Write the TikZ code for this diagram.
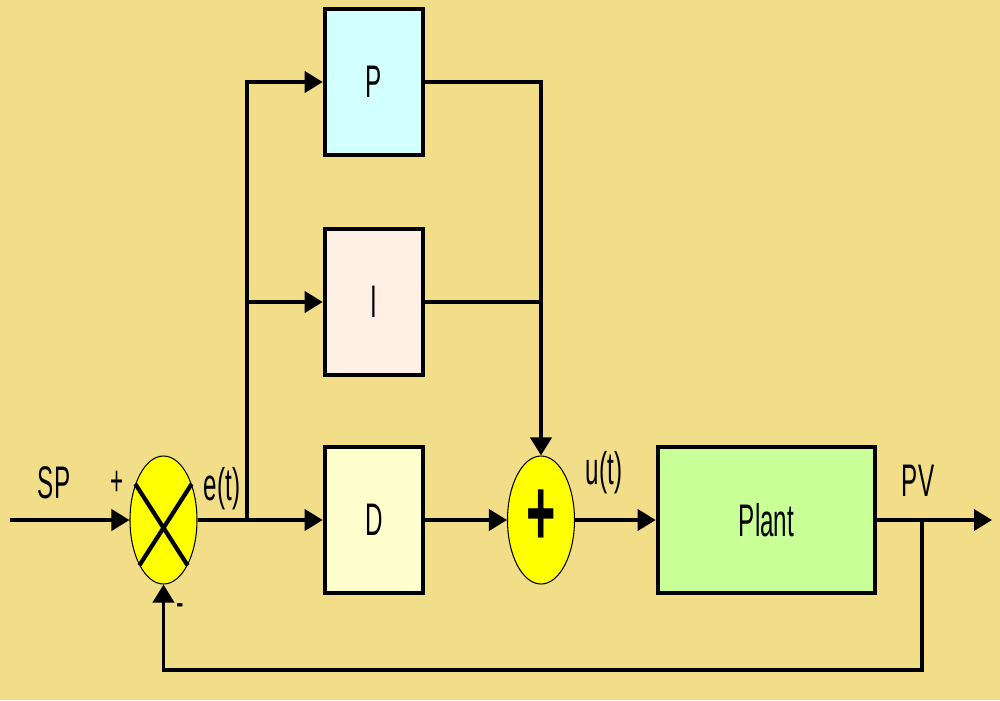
\documentclass[tikz,border=0pt]{standalone}
\usepackage{fontspec}
\setmainfont{Liberation Sans}
\newfontfamily\narrowfont[FakeStretch=0.53]{Liberation Sans}
\usepackage{tikz}
\definecolor{bgcolor}{RGB}{242,221,137}
\definecolor{sumyellow}{RGB}{255,255,0}
\definecolor{pcolor}{RGB}{210,255,255}
\definecolor{icolor}{RGB}{255,240,230}
\definecolor{dcolor}{RGB}{255,255,205}
\definecolor{plantcolor}{RGB}{200,255,150}
\usetikzlibrary{positioning}
\usetikzlibrary{arrows.meta}
\usetikzlibrary{shapes}
\tikzset{myLine/.style={line width=1.1pt}}

\begin{document}
\begin{tikzpicture}[x=0.1mm,y=-0.1mm,>={Triangle[length=1.8mm,width=2.1mm]},
  myBlock/.style={rectangle,draw=black,line width=1.3pt,minimum width=9.8mm,minimum height=14.6mm,inner sep=0pt,font=\narrowfont\fontsize{13}{13}\selectfont},
  mySum/.style={ellipse,draw=black,fill=sumyellow,line width=0.3pt,minimum width=6.7mm,minimum height=12.8mm,inner sep=0pt},
  myLabel/.style={inner sep=0pt,font=\narrowfont\fontsize{13}{13}\selectfont},
  mySign/.style={inner sep=0pt,font=\narrowfont\fontsize{12}{12}\selectfont}]
	\fill[bgcolor] (0,0) rectangle (1000,700);
	\useasboundingbox (0,0) rectangle (1000,700);
	% blocks
	\node[myBlock,fill=pcolor] (p) at (374,82) {P};
	\node[myBlock,fill=icolor] (i) at (374,302) {I};
	\node[myBlock,fill=dcolor] (d) at (374,520) {D};
	\node[myBlock,fill=plantcolor,minimum width=21.7mm] (plant) at (766.5,520) {Plant};
	\node[mySum] (sum1) at (163.5,520) {};
	\node[mySum,font=\narrowfont\bfseries\fontsize{27}{27}\selectfont] (sum2) at (541,520) {\raisebox{0.5mm}{+}};
	\draw[line width=1.2pt] (sum1.128) -- (sum1.-62);
	\draw[line width=1.2pt] (sum1.52) -- (sum1.-118);
	% labels
	\node[myLabel] (sp) at (54,483) {SP};
	\node[myLabel] (et) at (222,489) {e(t)};
	\node[myLabel] (ut) at (604,473) {u(t)};
	\node[myLabel] (pv) at (918,481) {PV};
	\node[mySign] (plus) at (117,483) {+};
	\node[mySign] (minus) at (180,610) {-};
	% connectors
	\coordinate (in) at (10,520);
	\coordinate (split) at (247,520);
	\coordinate (tap) at (922,520);
	\coordinate (fb) at (922,670);
	\coordinate (out) at (992,520);
	\draw[myLine,->] (in) -- (sum1);
	\draw[myLine,->] (sum1) -- (d);
	\draw[myLine,->] (split) |- (p);
	\draw[myLine,->] (split |- i) -- (i);
	\draw[myLine,->] (p) -| (sum2.north);
	\draw[myLine] (i) -- (i -| sum2.north);
	\draw[myLine,->] (d) -- (sum2);
	\draw[myLine,->] (sum2) -- (plant);
	\draw[myLine,->] (plant) -- (out);
	\draw[myLine,->] (tap) -- (fb) -| (sum1.south);
\end{tikzpicture}
\end{document}
